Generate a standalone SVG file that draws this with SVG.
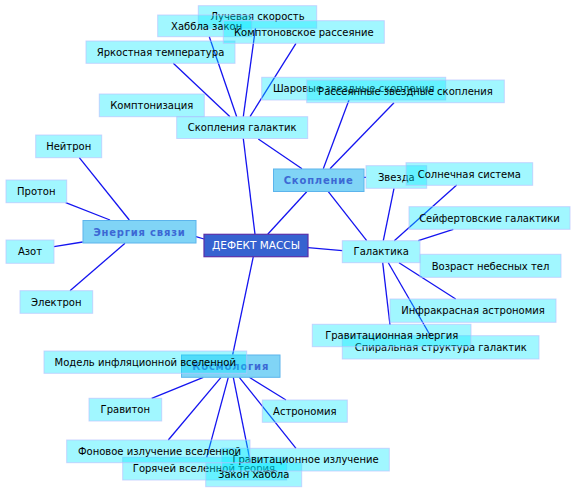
<svg xmlns="http://www.w3.org/2000/svg" width="576" height="493" viewBox="0 0 576 493">
<style>
.bg{fill:#fff}
.e line{stroke:#1414f0;stroke-width:1.3}
.n rect{fill:rgb(0,232,255);fill-opacity:0.37;stroke:#b8c4ff;stroke-opacity:0.7;stroke-width:1}
.n text{font-family:"DejaVu Sans",sans-serif;font-size:10px;fill:#000;text-anchor:middle}
.m rect{fill:#80d4f6;stroke:#5cb4ec;stroke-width:1}
.m text{font-family:"DejaVu Sans",sans-serif;font-size:10px;font-weight:bold;fill:#3c68d4;text-anchor:middle;letter-spacing:0.8px}
.c rect{fill:#3662d0;stroke:#5a2fa8;stroke-width:1.2}
.c text{font-family:"DejaVu Sans",sans-serif;font-size:10.5px;fill:#fff;text-anchor:middle}
</style>
<rect class="bg" width="576" height="493"/>
<g id="connectors" class="e">
<line x1="196" y1="236.7" x2="204" y2="239"/>
<line x1="129.3" y1="220" x2="79.3" y2="157.7"/>
<line x1="110" y1="220" x2="65.7" y2="202.7"/>
<line x1="82.7" y1="242" x2="54" y2="246.7"/>
<line x1="125" y1="243.3" x2="70" y2="290.7"/>
<line x1="255" y1="234.3" x2="243.3" y2="138.5"/>
<line x1="267.7" y1="234.3" x2="306.7" y2="191.7"/>
<line x1="253.3" y1="256.7" x2="232.7" y2="354.7"/>
<line x1="308" y1="247.7" x2="342.3" y2="250.7"/>
<line x1="230" y1="116.7" x2="173.3" y2="63.3"/>
<line x1="236.7" y1="116.7" x2="209.3" y2="36.7"/>
<line x1="243.3" y1="116.7" x2="255.5" y2="28"/>
<line x1="250" y1="116.7" x2="296" y2="43.3"/>
<line x1="258.3" y1="139" x2="302" y2="168.7"/>
<line x1="323.3" y1="168.7" x2="349" y2="100"/>
<line x1="330" y1="168.7" x2="394" y2="102.7"/>
<line x1="364" y1="177.3" x2="366" y2="177.3"/>
<line x1="328.3" y1="191.7" x2="366.7" y2="240.7"/>
<line x1="383.3" y1="240.7" x2="394" y2="188.3"/>
<line x1="394.3" y1="240.7" x2="456.7" y2="185"/>
<line x1="418.3" y1="240.7" x2="453.3" y2="229.3"/>
<line x1="399" y1="262.7" x2="455.7" y2="299"/>
<line x1="388.3" y1="262.7" x2="431" y2="336.7"/>
<line x1="382.7" y1="262.7" x2="390" y2="325"/>
<line x1="203.3" y1="377.3" x2="151.7" y2="398.3"/>
<line x1="221" y1="377.3" x2="168.3" y2="440"/>
<line x1="228.3" y1="377.3" x2="206.7" y2="457.3"/>
<line x1="233.3" y1="377.3" x2="250.5" y2="462.7"/>
<line x1="239.3" y1="377.3" x2="296" y2="448.3"/>
<line x1="249.3" y1="377.3" x2="286" y2="400"/>
</g>
<g id="n-energy" class="m"><rect x="83" y="220.5" width="113" height="22.5"/><text x="139.5" y="235.5">Энергия связи</text></g>
<g id="n-skoplenie" class="m"><rect x="273.5" y="169" width="90.5" height="22.5"/><text x="318.7" y="184">Скопление</text></g>
<g id="n-kosmologiya" class="m"><rect x="181.5" y="355" width="98.5" height="22.3"/><text x="230.7" y="370">Космология</text></g>
<g id="n-center" class="c"><rect x="204" y="234.3" width="104" height="22.4"/><text x="256" y="249.3">ДЕФЕКТ МАССЫ</text></g>
<g id="n-galaktika" class="n"><rect x="342.3" y="240.7" width="77.7" height="22"/><text x="381.2" y="255.3">Галактика</text></g>
<g id="n-neutron" class="n"><rect x="35.7" y="135" width="66" height="22.7"/><text x="68.7" y="150">Нейтрон</text></g>
<g id="n-proton" class="n"><rect x="6" y="180" width="60.7" height="22.7"/><text x="36.3" y="195">Протон</text></g>
<g id="n-azot" class="n"><rect x="6" y="240" width="48" height="23.3"/><text x="30" y="255.3">Азот</text></g>
<g id="n-elektron" class="n"><rect x="20" y="290.7" width="72.7" height="22.6"/><text x="56.3" y="305.6">Электрон</text></g>
<g id="n-skopleniya-galaktik" class="n"><rect x="176.7" y="116.7" width="131" height="21.8"/><text x="242.2" y="131.3">Скопления галактик</text></g>
<g id="n-yarkost" class="n"><rect x="86" y="41" width="149" height="22.3"/><text x="160.5" y="55.8">Яркостная температура</text></g>
<g id="n-komptonizaciya" class="n"><rect x="99.3" y="94" width="105" height="22.7"/><text x="151.8" y="109">Комптонизация</text></g>
<g id="n-luchevaya" class="n"><rect x="198.3" y="5.7" width="118.4" height="22.5"/><text x="257.5" y="20.3">Лучевая скорость</text></g>
<g id="n-habbla" class="n"><rect x="157.7" y="15" width="94" height="21.7"/><text x="206.7" y="29.5">Хаббла закон</text></g>
<g id="n-kompton" class="n"><rect x="223.3" y="20.7" width="161" height="22.6"/><text x="303.8" y="35.6">Комптоновское рассеяние</text></g>
<g id="n-sharovye" class="n"><rect x="261.7" y="77.3" width="184" height="22.7"/><text x="353.7" y="92.2">Шаровые звездные скопления</text></g>
<g id="n-rasseyannye" class="n"><rect x="306.7" y="80" width="197.6" height="22.7"/><text x="405.5" y="95">Рассеянные звездные скопления</text></g>
<g id="n-zvezda" class="n"><rect x="366" y="165.7" width="60.7" height="22.6"/><text x="396.3" y="180.6">Звезда</text></g>
<g id="n-solnechnaya" class="n"><rect x="406" y="162.7" width="126.7" height="22.6"/><text x="469.3" y="177.6">Солнечная система</text></g>
<g id="n-seyfert" class="n"><rect x="409" y="206.7" width="161" height="22.6"/><text x="489.5" y="221.6">Сейфертовские галактики</text></g>
<g id="n-vozrast" class="n"><rect x="420" y="254.3" width="141" height="23"/><text x="490.5" y="269.5">Возраст небесных тел</text></g>
<g id="n-infrakrasnaya" class="n"><rect x="390" y="299" width="166" height="23.3"/><text x="473" y="314.3">Инфракрасная астрономия</text></g>
<g id="n-spiral" class="n"><rect x="342.3" y="335.7" width="196.7" height="23.3"/><text x="440.7" y="351">Спиральная структура галактик</text></g>
<g id="n-grav-energiya" class="n"><rect x="312.3" y="324.3" width="158.7" height="22.4"/><text x="391.7" y="339.2">Гравитационная энергия</text></g>
<g id="n-model" class="n"><rect x="44" y="351" width="202.7" height="22.3"/><text x="145.3" y="365.8">Модель инфляционной вселенной</text></g>
<g id="n-graviton" class="n"><rect x="89" y="398.3" width="72.7" height="22.7"/><text x="125.3" y="413.3">Гравитон</text></g>
<g id="n-astronomiya" class="n"><rect x="262.3" y="400" width="85" height="22.3"/><text x="304.8" y="414.8">Астрономия</text></g>
<g id="n-goryachey" class="n"><rect x="122.7" y="457.3" width="164" height="22.7"/><text x="205.5" y="472.3">Горячей вселенной теория.</text></g>
<g id="n-zakon-habbla" class="n"><rect x="205.7" y="462.7" width="96" height="24"/><text x="253.7" y="478.3">Закон хаббла</text></g>
<g id="n-grav-izluchenie" class="n"><rect x="221.7" y="448.3" width="167.6" height="22.7"/><text x="305.5" y="463.3">Гравитационное излучение</text></g>
<g id="n-fonovoe" class="n"><rect x="66.7" y="440" width="183.3" height="22.7"/><text x="159.5" y="455">Фоновое излучение вселенной</text></g>
</svg>
